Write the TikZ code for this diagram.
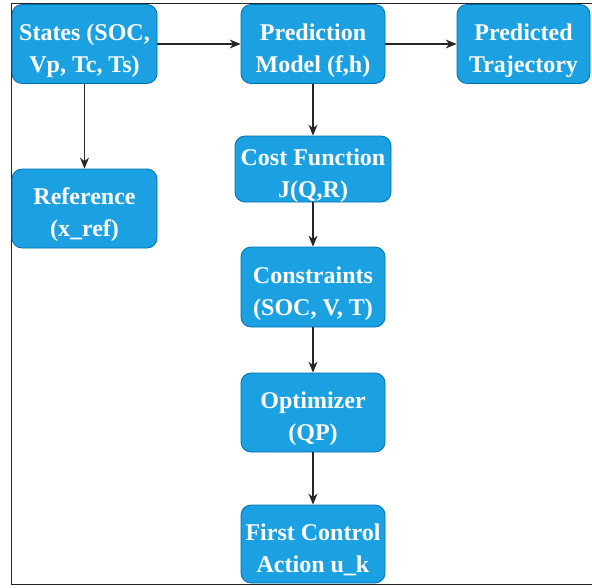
\documentclass[tikz,border=0pt]{standalone}
\usepackage{fontspec}
\setmainfont{Liberation Serif}
\usetikzlibrary{arrows.meta}
\definecolor{boxfill}{HTML}{1BA1E2}
\definecolor{boxline}{HTML}{006EAF}
% two centred lines, set a little below the box centre
\newcommand{\twoline}[2]{\raisebox{-6pt}[\height][\depth]{\begin{tabular}{@{}c@{}}#1\\#2\end{tabular}}}
\tikzset{
  blockbox/.style={draw=boxline, fill=boxfill, line width=0.8pt, rounded corners=10pt,
    text=white, inner sep=0pt,
    font=\fontsize{24}{32}\selectfont\bfseries},
  flow/.style={draw=black!85, line width=1.2pt, -{Stealth[length=11pt,width=9pt]}}
}
\begin{document}
\begin{tikzpicture}[x=1pt,y=-1pt]
\useasboundingbox (0,0) rectangle (592,587);
% outer frame (left, top and bottom edges)
\draw[line width=1.5pt, black!85] (600,3.5) -- (11.5,3.5) -- (11.5,584.5) -- (600,584.5);

\node[blockbox, minimum width=145pt, minimum height=79pt] (states) at (84.5,44) {\twoline{States (SOC,}{Vp, Tc, Ts)}};
\node[blockbox, minimum width=144pt, minimum height=79pt] (pred) at (313,44) {\twoline{Prediction}{Model (f,h)}};
\node[blockbox, minimum width=133pt, minimum height=79pt] (traj) at (523.5,44) {\twoline{Predicted}{Trajectory}};
\node[blockbox, minimum width=145pt, minimum height=79pt] (ref) at (84.5,208.5) {\twoline{Reference}{(x\_ref)}};
\node[blockbox, minimum width=156pt, minimum height=66pt] (cost) at (313,169) {\twoline{Cost Function}{J(Q,R)}};
\node[blockbox, minimum width=144pt, minimum height=80pt] (cons) at (313,287) {\twoline{Constraints}{(SOC, V, T)}};
\node[blockbox, minimum width=144pt, minimum height=79pt] (opt) at (313,412.5) {\twoline{Optimizer}{(QP)}};
\node[blockbox, minimum width=144pt, minimum height=78pt] (act) at (313,544) {\twoline{First Control}{Action u\_k}};

\draw[flow] (states) -- (pred);
\draw[flow] (pred) -- (traj);
\draw[flow] (states) -- (ref);
\draw[flow] (pred) -- (cost);
\draw[flow] (cost) -- (cons);
\draw[flow] (cons) -- (opt);
\draw[flow] (opt) -- (act);
\end{tikzpicture}
\end{document}
